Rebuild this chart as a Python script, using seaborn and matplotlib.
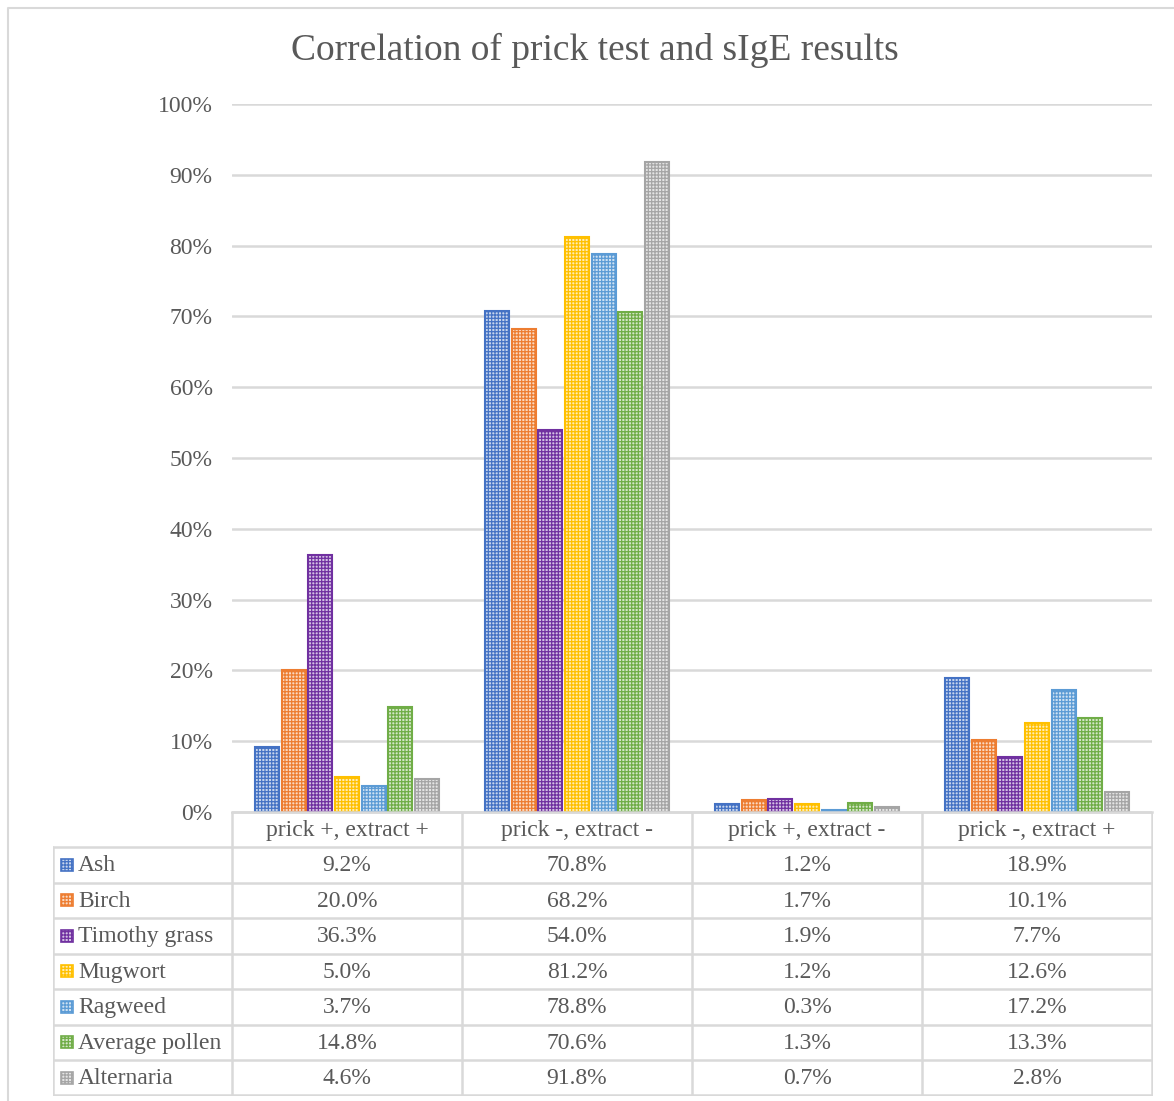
import matplotlib.pyplot as plt
import pandas as pd
import seaborn as sns
from matplotlib.colors import to_rgb
from matplotlib.lines import Line2D
from matplotlib.patches import Rectangle

# data
categories = ["prick +, extract +", "prick -, extract -", "prick +, extract -", "prick -, extract +"]
allergens = ["Ash", "Birch", "Timothy grass", "Mugwort", "Ragweed", "Average pollen", "Alternaria"]
ash = [9.2, 70.8, 1.2, 18.9]
birch = [20.0, 68.2, 1.7, 10.1]
timothy = [36.3, 54.0, 1.9, 7.7]
mugwort = [5.0, 81.2, 1.2, 12.6]
ragweed = [3.7, 78.8, 0.3, 17.2]
avg_pollen = [14.8, 70.6, 1.3, 13.3]
alternaria = [4.6, 91.8, 0.7, 2.8]
colors = ["#4472C4", "#ED7D31", "#7030A0", "#FFC000", "#5B9BD5", "#70AD47", "#A5A5A5"]

series = [ash, birch, timothy, mugwort, ragweed, avg_pollen, alternaria]
rows = []
for name, vals in zip(allergens, series):
    for cat, v in zip(categories, vals):
        rows.append({"category": cat, "allergen": name, "value": v})
df = pd.DataFrame(rows)


def tint(c, f=0.3):
    # light version of a colour, mimics the checker fill
    r, g, b = to_rgb(c)
    return (1 - f + f * r, 1 - f + f * g, 1 - f + f * b)


sns.set_style("white")
plt.rcParams["font.family"] = ["Liberation Serif", "DejaVu Serif"]
plt.rcParams["hatch.linewidth"] = 0.9
txt_color = "#595959"
grid_color = "#D9D9D9"
fs = 17

W, H = 1174, 1101
fig = plt.figure(figsize=(W / 100, H / 100), dpi=100)

# main chart area
ax = fig.add_axes([232 / W, (H - 812) / H, 920 / W, (812 - 104) / H])
sns.barplot(data=df, x="category", y="value", hue="allergen", order=categories,
            hue_order=allergens, palette=colors, width=0.81, gap=0.1,
            legend=False, ax=ax)

for cont, col in zip(ax.containers, colors):
    for bar in cont:
        bar.set_facecolor(tint(col))
        bar.set_edgecolor(col)
        bar.set_hatch("+++++")
        bar.set_linewidth(1.5)

ax.set_ylim(0, 100)
ax.set_xlim(-0.5, len(categories) - 0.5)
ax.set_yticks(range(0, 101, 10))
ax.set_yticklabels([f"{t}%" for t in range(0, 101, 10)], fontsize=fs, color=txt_color)
ax.tick_params(axis="y", length=0, pad=14)
ax.set_xticks([])
ax.set_xlabel("")
ax.set_ylabel("")
ax.grid(axis="y", color=grid_color, linewidth=1.8)
ax.set_axisbelow(True)
for s in ["top", "right", "left"]:
    ax.spines[s].set_visible(False)
ax.spines["bottom"].set_color(grid_color)
ax.spines["bottom"].set_linewidth(1.8)

fig.text(595 / W, 1 - 50 / H, "Correlation of prick test and sIgE results",
         ha="center", va="center", fontsize=27, color=txt_color)

# data table under the chart
tax = fig.add_axes([53 / W, (H - 1096) / H, (1153 - 53) / W, (1096 - 812) / H])
tax.set_xlim(53, 1153)
tax.set_ylim(1096, 812)
tax.axis("off")

col_x = [53, 232, 462, 692, 922, 1152]
row_y = [812, 847, 882.5, 918, 953.5, 989, 1024.5, 1060, 1095]

# horizontal lines
tax.plot([232, 1152], [row_y[0], row_y[0]], color=grid_color, lw=1.8)
for y in row_y[1:]:
    tax.plot([col_x[0], col_x[-1]], [y, y], color=grid_color, lw=1.8)
# vertical lines
tax.plot([col_x[0], col_x[0]], [row_y[1], row_y[-1]], color=grid_color, lw=1.8)
for x in col_x[1:]:
    tax.plot([x, x], [row_y[0], row_y[-1]], color=grid_color, lw=1.8)

for j, cat in enumerate(categories):
    tax.text((col_x[j + 1] + col_x[j + 2]) / 2, (row_y[0] + row_y[1]) / 2 + 1, cat,
             ha="center", va="center", fontsize=fs, color=txt_color)

for i, (name, vals, col) in enumerate(zip(allergens, series, colors)):
    yc = (row_y[i + 1] + row_y[i + 2]) / 2
    tax.add_patch(Rectangle((61, yc - 6), 12, 12, facecolor=tint(col), edgecolor=col,
                            hatch="+++++", lw=1.2))
    tax.text(78, yc + 1, name, ha="left", va="center", fontsize=fs, color=txt_color)
    for j, v in enumerate(vals):
        tax.text((col_x[j + 1] + col_x[j + 2]) / 2, yc + 1, f"{v:.1f}%",
                 ha="center", va="center", fontsize=fs, color=txt_color)

# chart frame: only left and top edges are inside the crop
fig.lines.append(Line2D([7.5 / W, 7.5 / W, 1.0], [0.0, 1 - 8 / H, 1 - 8 / H],
                        transform=fig.transFigure, color=grid_color, lw=1.5))

fig.savefig("out.png", dpi=100)
